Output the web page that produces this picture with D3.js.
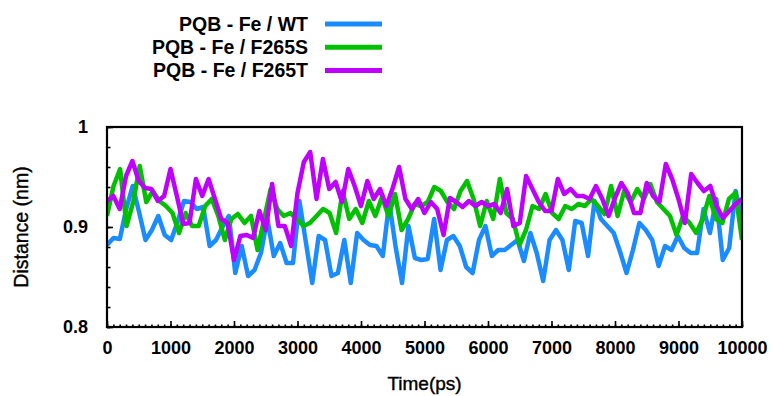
<!DOCTYPE html>
<html>
<head>
<meta charset="utf-8">
<script src="https://cdn.jsdelivr.net/npm/d3@7"></script>
<style>
  body { margin: 0; background: #fff; }
  .tick text { font-family: "Liberation Sans", Arial, sans-serif; font-weight: bold; fill: #000; }
  .domain { display: none; }
  .tick line { stroke: #000; stroke-width: 1.6; }
</style>
</head>
<body>
<div id="chart"></div>
<script>
const size = { width: 773, height: 396 };
const plot = { left: 107, right: 742, top: 127, bottom: 327 };

// values, samples spread evenly over 0 - 10000 ps
const seriesNames = ["PQB - Fe / WT", "PQB - Fe / F265S", "PQB - Fe / F265T"];
const seriesColors = ["#1a8cff", "#00c000", "#c000ff"];

const wt = [0.882,0.889,0.888,0.918,0.941,0.915,0.887,0.897,0.911,0.892,
  0.887,0.905,0.926,0.925,0.918,0.920,0.881,0.887,0.900,0.911,
  0.854,0.881,0.851,0.857,0.874,0.908,0.871,0.884,0.864,0.864,
  0.926,0.885,0.844,0.891,0.887,0.851,0.854,0.887,0.844,0.894,
  0.887,0.882,0.881,0.871,0.925,0.880,0.844,0.901,0.869,0.867,
  0.868,0.908,0.857,0.887,0.891,0.881,0.860,0.854,0.887,0.901,
  0.871,0.877,0.877,0.882,0.887,0.866,
  0.894,0.874,0.846,0.887,0.897,0.887,0.857,0.906,0.904,0.871,
  0.926,0.908,0.901,0.894,0.875,0.854,0.877,0.904,0.897,0.887,
  0.861,0.881,0.877,0.891,0.879,0.874,0.874,0.918,0.894,0.928,
  0.867,0.879,0.936,0.908];

const f265s = [0.911,0.941,0.958,0.901,0.925,0.961,0.925,0.936,0.926,0.921,
  0.914,0.894,0.914,0.901,0.901,0.921,0.928,0.911,0.887,0.908,
  0.913,0.904,0.911,0.877,0.908,0.938,0.918,0.911,0.914,0.908,
  0.901,0.904,0.911,
  0.918,0.914,0.894,0.936,0.908,0.918,0.904,0.926,0.911,0.930,
  0.911,0.933,0.897,0.908,0.923,0.921,0.925,0.940,0.936,0.925,
  0.918,0.936,0.946,0.928,0.901,0.926,0.908,0.948,0.914,0.908,
  0.882,0.897,
  0.921,0.918,0.933,0.914,0.908,0.921,0.918,0.923,0.921,0.928,
  0.921,0.913,0.941,0.911,0.936,0.925,0.938,0.928,0.943,0.925,
  0.918,0.911,0.892,0.911,0.904,0.894,0.908,0.931,0.908,0.904,
  0.928,0.934,0.887];

const f265t = [0.926,0.931,0.918,0.951,0.966,0.946,0.939,0.938,0.926,0.931,
  0.958,0.931,0.903,0.904,0.948,0.931,0.948,0.928,0.908,0.904,
  0.867,0.891,0.892,0.889,0.916,0.897,0.943,0.901,0.901,0.881,
  0.934,0.965,0.975,0.928,
  0.968,0.938,0.945,0.925,0.958,0.941,0.921,0.946,0.928,0.938,
  0.921,0.939,0.960,0.928,0.918,0.928,0.914,0.925,0.918,0.892,
  0.929,0.925,0.920,0.926,0.921,0.925,0.921,0.923,0.914,0.938,
  0.901,0.904,
  0.951,0.938,0.925,0.916,0.916,0.948,0.933,0.938,0.931,0.931,
  0.928,0.941,0.928,0.911,0.929,0.944,0.934,0.914,0.914,0.944,
  0.931,0.925,0.963,0.948,0.928,0.904,0.953,0.944,0.936,0.941,
  0.921,0.909,0.916,0.923,0.928];

const seriesValues = [wt, f265s, f265t];

const xMajorTicks = [0,1000,2000,3000,4000,5000,6000,7000,8000,9000,10000];
const yMajorTicks = [0.8, 0.9, 1];
const xLabel = "Time(ps)";
const yLabel = "Distance (nm)";

const svg = d3.select("#chart")
  .append("svg")
  .attr("width", size.width)
  .attr("height", size.height);

var x = d3.scaleLinear().domain([0, 10000]).range([plot.left, plot.right]),
    y = d3.scaleLinear().domain([0.8, 1]).range([plot.bottom, plot.top]);

// minor ticks
svg.append("g")
    .attr("transform", "translate(0," + plot.bottom + ")")
    .call(d3.axisBottom(x).tickValues(d3.range(0, 10001, 100)).tickSize(-2.5).tickFormat(""));
svg.append("g")
    .attr("transform", "translate(" + plot.left + ",0)")
    .call(d3.axisLeft(y).tickValues(d3.range(0.8, 1.0001, 0.02)).tickSize(-3.5).tickFormat(""));

// major ticks + labels
svg.append("g")
    .attr("transform", "translate(0," + plot.bottom + ")")
    .call(d3.axisBottom(x).tickValues(xMajorTicks).tickSize(-6).tickPadding(14).tickFormat(d3.format("d")))
    .selectAll("text").style("font-size", "18px");
svg.append("g")
    .attr("transform", "translate(" + plot.left + ",0)")
    .call(d3.axisLeft(y).tickValues(yMajorTicks).tickSize(-6).tickPadding(19).tickFormat(d3.format("")))
    .selectAll("text").style("font-size", "18px");

var line = d3.line()
    .x(function(d) { return x(d[0]); })
    .y(function(d) { return y(d[1]); });

svg.append("clipPath").attr("id", "clip")
  .append("rect")
    .attr("x", plot.left).attr("y", plot.top)
    .attr("width", plot.right - plot.left).attr("height", plot.bottom - plot.top);

svg.append("g")
    .attr("clip-path", "url(#clip)")
  .selectAll("path")
    .data(seriesValues)
  .enter().append("path")
    .attr("fill", "none")
    .attr("stroke", function(d, i) { return seriesColors[i]; })
    .attr("stroke-width", 4.5)
    .attr("stroke-linejoin", "round")
    .attr("d", function(vals) {
      var n = vals.length;
      return line(vals.map(function(v, i) { return [i * 10000 / (n - 1), v]; }));
    });

// frame
svg.append("rect")
    .attr("x", plot.left).attr("y", plot.top)
    .attr("width", plot.right - plot.left).attr("height", plot.bottom - plot.top)
    .attr("fill", "none")
    .attr("stroke", "#000")
    .attr("stroke-width", 2.2);

// axis titles
svg.append("text")
    .attr("x", (plot.left + plot.right) / 2)
    .attr("y", 390)
    .attr("text-anchor", "middle")
    .style("font-family", "Liberation Sans, Arial, sans-serif")
    .style("font-size", "19px")
    .style("stroke", "#000")
    .style("stroke-width", 0.4)
    .text(xLabel);

svg.append("text")
    .attr("transform", "translate(28," + (plot.top + plot.bottom) / 2 + ") rotate(-90)")
    .attr("text-anchor", "middle")
    .style("font-family", "Liberation Sans, Arial, sans-serif")
    .style("font-size", "19.5px")
    .style("stroke", "#000")
    .style("stroke-width", 0.4)
    .text(yLabel);

// legend
var legend = svg.append("g").selectAll("g")
    .data(seriesNames)
  .enter().append("g")
    .attr("transform", function(d, i) { return "translate(0," + (24 + i * 23.3) + ")"; });

legend.append("text")
    .attr("x", 308)
    .attr("dy", "0.35em")
    .attr("text-anchor", "end")
    .style("font-family", "Liberation Sans, Arial, sans-serif")
    .style("font-weight", "bold")
    .style("font-size", "19.5px")
    .text(function(d) { return d; });

legend.append("line")
    .attr("x1", 325).attr("x2", 382)
    .attr("stroke", function(d, i) { return seriesColors[i]; })
    .attr("stroke-width", 5);
</script>
</body>
</html>
